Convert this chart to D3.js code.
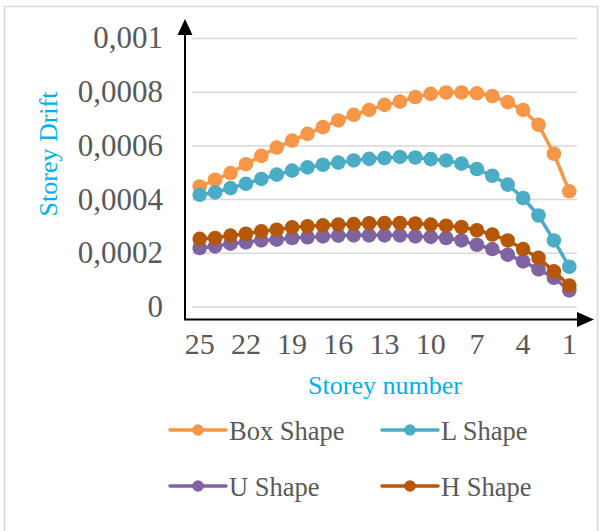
<!DOCTYPE html>
<html>
<head>
<meta charset="utf-8">
<script src="https://cdn.jsdelivr.net/npm/d3@7"></script>
<style>
  html, body { margin: 0; padding: 0; background: #fff; }
  svg { display: block; }
  text { font-family: "Liberation Serif", "Times New Roman", serif; }
</style>
</head>
<body>
<svg id="chart" width="603" height="531"></svg>
<script>
// Storey numbers along the horizontal axis (top storey first)
const storeys = [25, 24, 23, 22, 21, 20, 19, 18, 17, 16, 15, 14, 13, 12, 11, 10, 9, 8, 7, 6, 5, 4, 3, 2, 1];
const xTickStoreys = [25, 22, 19, 16, 13, 10, 7, 4, 1];
const yTicks = [0, 0.0002, 0.0004, 0.0006, 0.0008, 0.001];

// Storey drift for each plan shape
const boxShape = [0.000447, 0.000472, 0.000497, 0.000530, 0.000561, 0.000592, 0.000618, 0.000643, 0.000668, 0.000693, 0.000714, 0.000732, 0.000751, 0.000763, 0.000780, 0.000792, 0.000797, 0.000797, 0.000794, 0.000784, 0.000761, 0.000732, 0.000677, 0.000569, 0.000429];
const lShape = [0.000416, 0.000425, 0.000441, 0.000457, 0.000475, 0.000491, 0.000506, 0.000518, 0.000528, 0.000536, 0.000544, 0.000550, 0.000553, 0.000557, 0.000555, 0.000549, 0.000544, 0.000532, 0.000512, 0.000487, 0.000454, 0.000404, 0.000339, 0.000246, 0.000148];
const uShape = [0.000218, 0.000224, 0.000234, 0.000239, 0.000246, 0.000249, 0.000255, 0.000258, 0.000261, 0.000264, 0.000265, 0.000265, 0.000265, 0.000265, 0.000261, 0.000259, 0.000255, 0.000246, 0.000230, 0.000214, 0.000193, 0.000168, 0.000138, 0.000107, 0.000060];
const hShape = [0.000252, 0.000255, 0.000264, 0.000271, 0.000280, 0.000286, 0.000295, 0.000299, 0.000302, 0.000305, 0.000307, 0.000310, 0.000311, 0.000311, 0.000309, 0.000305, 0.000301, 0.000296, 0.000284, 0.000268, 0.000246, 0.000214, 0.000181, 0.000131, 0.000078];

const seriesNames = ["Box Shape", "L Shape", "U Shape", "H Shape"];
const seriesValues = [boxShape, lShape, uShape, hShape];
const seriesColors = ["#F79646", "#4BACC6", "#8064A2", "#B65708"];

const svg = d3.select("#chart");

// Outer frame
svg.append("rect")
  .attr("x", 4.5).attr("y", 6.5).attr("width", 593).attr("height", 540)
  .attr("fill", "#fff").attr("stroke", "#d9d9d9").attr("stroke-width", 1.5);

const plot = { left: 192, right: 577, top: 38, bottom: 306.5 };

const x = d3.scaleBand().domain(storeys).range([plot.left, plot.right]).padding(0);
const y = d3.scaleLinear().domain([0, 0.001]).range([plot.bottom, plot.top]);
const xc = s => x(s) + x.bandwidth() / 2;

const locale = d3.formatLocale({ decimal: ",", thousands: ".", grouping: [3], currency: ["", ""] });
const fmt = locale.format("~g");

// Value axis with horizontal gridlines
const yAxis = svg.append("g")
  .attr("transform", `translate(${plot.left},0)`)
  .call(d3.axisLeft(y).tickValues(yTicks).tickFormat(fmt)
    .tickSize(-(plot.right - plot.left)).tickPadding(29));
yAxis.select(".domain").remove();
yAxis.selectAll(".tick line").attr("stroke", "#d9d9d9").attr("stroke-width", 1.5);
yAxis.selectAll(".tick text")
  .attr("fill", "#595959").attr("font-size", 31)
  .attr("font-family", "'Liberation Serif', 'Times New Roman', serif");

// Category axis labels
const axisY = 319.5;
const xAxis = svg.append("g")
  .attr("transform", `translate(0,${axisY})`)
  .call(d3.axisBottom(x).tickValues(xTickStoreys).tickSize(0));
xAxis.select(".domain").remove();
xAxis.selectAll(".tick text")
  .attr("y", 34).attr("dy", 0)
  .attr("fill", "#595959").attr("font-size", 30)
  .attr("font-family", "'Liberation Serif', 'Times New Roman', serif");

// Arrowed axis lines
const axisX = 185;
svg.append("line")
  .attr("x1", axisX).attr("y1", axisY).attr("x2", axisX).attr("y2", 34)
  .attr("stroke", "#000").attr("stroke-width", 2);
svg.append("path")
  .attr("d", `M${axisX},19 L${axisX - 7.5},35 L${axisX + 7.5},35 Z`)
  .attr("fill", "#000");
svg.append("line")
  .attr("x1", axisX - 1).attr("y1", axisY).attr("x2", 579).attr("y2", axisY)
  .attr("stroke", "#000").attr("stroke-width", 2);
svg.append("path")
  .attr("d", `M594,${axisY} L577,${axisY - 7.5} L577,${axisY + 7.5} Z`)
  .attr("fill", "#000");

// Series lines and markers
const line = d3.line().x((d, i) => xc(storeys[i])).y(d => y(d));
seriesValues.forEach((vals, k) => {
  const g = svg.append("g");
  g.append("path")
    .attr("d", line(vals))
    .attr("fill", "none")
    .attr("stroke", seriesColors[k])
    .attr("stroke-width", 3.5)
    .attr("stroke-linejoin", "round");
  g.selectAll("circle")
    .data(vals)
    .join("circle")
    .attr("cx", (d, i) => xc(storeys[i]))
    .attr("cy", d => y(d))
    .attr("r", 7.3)
    .attr("fill", seriesColors[k]);
});

// Axis titles
svg.append("text")
  .attr("x", 385).attr("y", 394)
  .attr("text-anchor", "middle")
  .attr("font-size", 26).attr("fill", "#00B0F0")
  .text("Storey number");
svg.append("text")
  .attr("transform", "translate(57,154) rotate(-90)")
  .attr("text-anchor", "middle")
  .attr("font-size", 26).attr("fill", "#00B0F0")
  .text("Storey Drift");

// Legend
const legendPos = [
  { x: 170, y: 430 }, { x: 382, y: 430 },
  { x: 170, y: 486 }, { x: 382, y: 486 }
];
seriesNames.forEach((name, k) => {
  const p = legendPos[k];
  const g = svg.append("g").attr("transform", `translate(${p.x},${p.y})`);
  g.append("line")
    .attr("x1", 0).attr("x2", 56).attr("y1", 0).attr("y2", 0)
    .attr("stroke", seriesColors[k]).attr("stroke-width", 3.5).attr("stroke-linecap", "round");
  g.append("circle").attr("cx", 28).attr("cy", 0).attr("r", 5.8).attr("fill", seriesColors[k]);
  g.append("text")
    .attr("x", 59).attr("y", 10)
    .attr("font-size", 26.5).attr("fill", "#595959")
    .text(name);
});
</script>
</body>
</html>
